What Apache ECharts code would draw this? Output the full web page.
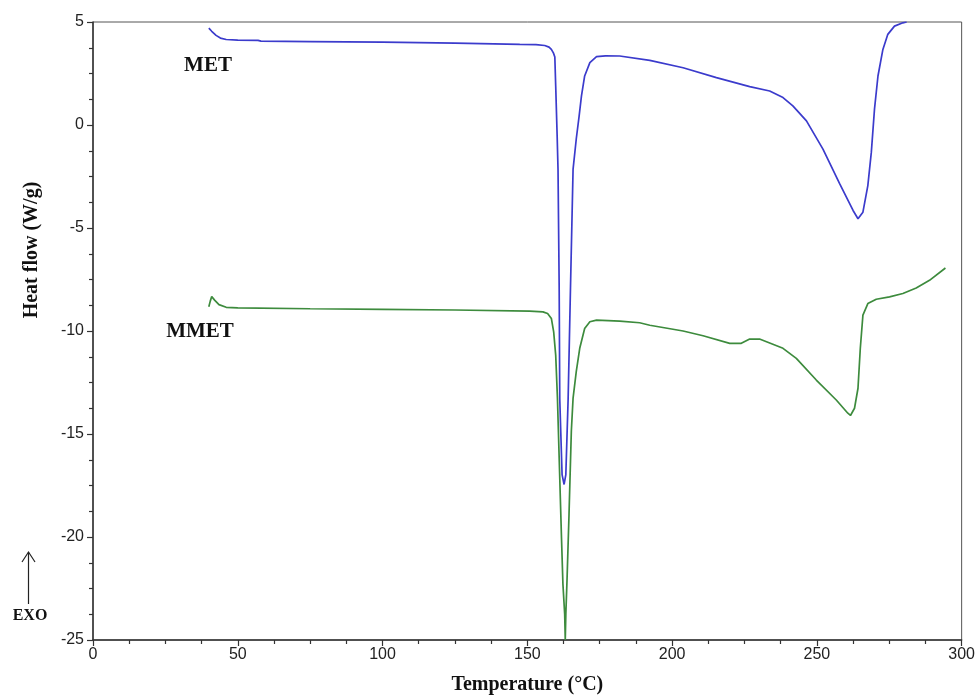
<!DOCTYPE html>
<html>
<head>
<meta charset="utf-8">
<script src="https://cdn.jsdelivr.net/npm/echarts@6/dist/echarts.min.js"></script>
<style>
  html, body { margin: 0; padding: 0; background: #fff; }
  #chart { width: 978px; height: 700px; }
</style>
</head>
<body>
<div id="chart"></div>
<script>
// DSC thermograms: heat flow (W/g) against temperature (°C)
const tempMET = [40.0, 41.0, 42.5, 44.0, 46.0, 50, 57, 58, 75, 100, 125, 147.4, 153, 156, 157.5, 158.3, 159.0, 159.5,
  159.8, 160.3, 160.6, 161.0, 161.2, 162.0, 162.7, 163.3, 164.1, 164.9, 165.8, 166.9, 167.9, 168.7, 169.8, 171.6,
  173.9, 177, 181.9, 192.3, 203.8, 215.3, 226.8, 233.7, 238.3, 241.7, 246.4, 252.1, 257.9, 262.5, 264.2, 265.9,
  267.6, 268.8, 269.9, 271.1, 272.8, 274.5, 276.8, 279.7, 281.0];
const flowMET = [4.70, 4.55, 4.35, 4.22, 4.15, 4.12, 4.11, 4.07, 4.05, 4.02, 3.97, 3.91, 3.90, 3.86, 3.78, 3.67, 3.50, 3.30,
  1.90, -0.52, -2.14, -7.9, -13.3, -16.97, -17.45, -16.97, -13.26, -7.94, -2.14, -0.68, 0.44, 1.41, 2.38, 3.03,
  3.32, 3.36, 3.35, 3.14, 2.78, 2.30, 1.86, 1.65, 1.33, 0.93, 0.20, -1.17, -2.86, -4.15, -4.55, -4.23,
  -2.94, -1.33, 0.77, 2.38, 3.67, 4.40, 4.80, 4.96, 5.0];

const tempMMET = [40.0, 40.5, 41.0, 42.0, 43.5, 46.0, 50, 75, 100, 125, 150.8, 155.4, 157.0, 158.3, 159.1, 159.8, 160.4,
  161.8, 162.3, 162.9, 163.1, 163.3, 163.7, 164.4, 165.2, 165.8, 166.9, 168.1, 169.8, 171.6, 173.9, 181.9, 188.8,
  192.3, 203.8, 210.7, 219.9, 223.9, 226.8, 230.2, 238.3, 242.9, 249.8, 256.7, 260.7, 261.6, 263.0, 264.2, 265.0,
  265.9, 267.6, 270.5, 275.1, 279.7, 284.3, 288.9, 294.4];
const flowMMET = [-8.82, -8.55, -8.33, -8.50, -8.72, -8.85, -8.88, -8.92, -8.95, -8.98, -9.04, -9.07, -9.15, -9.39, -10.04, -11.17, -13.26,
  -20.04, -22.3, -23.75, -25.0, -23.75, -22.13, -18.9, -14.86, -13.26, -11.97, -10.84, -9.88, -9.55, -9.47, -9.52, -9.60,
  -9.72, -10.0, -10.23, -10.60, -10.60, -10.39, -10.39, -10.84, -11.33, -12.38, -13.35, -13.99, -14.10, -13.75, -12.78, -10.84,
  -9.23, -8.67, -8.46, -8.34, -8.18, -7.91, -7.54, -6.94];

const xTicks = { min: 0, max: 300, interval: 50 };
const yTicks = { min: -25, max: 5, interval: 5 };

const pairs = (xs, ys) => xs.map((x, i) => [x, ys[i]]);

const serif = '"Liberation Serif", "DejaVu Serif", serif';
const sans = '"Liberation Sans", Arial, sans-serif';

const chart = echarts.init(document.getElementById('chart'), null, { renderer: 'canvas' });

chart.setOption({
  animation: false,
  backgroundColor: '#ffffff',
  grid: {
    left: 93, right: 16, top: 22, bottom: 58,
    show: true, borderColor: '#555', borderWidth: 1, backgroundColor: 'transparent'
  },
  xAxis: {
    type: 'value',
    min: xTicks.min, max: xTicks.max, interval: xTicks.interval,
    name: 'Temperature (°C)',
    nameLocation: 'middle',
    nameGap: 35,
    nameTextStyle: { fontFamily: serif, fontWeight: 'bold', fontSize: 20, color: '#111' },
    axisLine: { show: true, onZero: false, lineStyle: { color: '#333', width: 1.5 } },
    axisTick: { show: true, inside: false, length: 6, lineStyle: { color: '#333', width: 1.2 } },
    minorTick: { show: true, splitNumber: 4, length: 4, lineStyle: { color: '#333', width: 1.2 } },
    axisLabel: { fontFamily: sans, fontSize: 16, color: '#222', margin: 7 },
    splitLine: { show: false }
  },
  yAxis: {
    type: 'value',
    min: yTicks.min, max: yTicks.max, interval: yTicks.interval,
    axisLine: { show: true, onZero: false, lineStyle: { color: '#333', width: 1.5 } },
    axisTick: { show: true, inside: false, length: 6, lineStyle: { color: '#333', width: 1.2 } },
    minorTick: { show: true, splitNumber: 4, length: 4, lineStyle: { color: '#333', width: 1.2 } },
    axisLabel: { fontFamily: sans, fontSize: 16, color: '#222', margin: 9 },
    splitLine: { show: false }
  },
  series: [
    {
      name: 'MET',
      type: 'line',
      data: pairs(tempMET, flowMET),
      showSymbol: false,
      clip: true,
      lineStyle: { color: '#3b3bcc', width: 1.7 }
    },
    {
      name: 'MMET',
      type: 'line',
      data: pairs(tempMMET, flowMMET),
      showSymbol: false,
      clip: true,
      lineStyle: { color: '#3d8b3d', width: 1.7 }
    }
  ],
  graphic: [
    {
      type: 'text', x: 32, y: 250, rotation: Math.PI / 2,
      style: { text: 'Heat flow (W/g)', font: 'bold 20px ' + serif, fill: '#111',
               align: 'center', verticalAlign: 'middle' }
    },
    {
      type: 'text', x: 208, y: 66,
      style: { text: 'MET', font: 'bold 21px ' + serif, fill: '#111', align: 'center', verticalAlign: 'middle' }
    },
    {
      type: 'text', x: 200, y: 332,
      style: { text: 'MMET', font: 'bold 21px ' + serif, fill: '#111', align: 'center', verticalAlign: 'middle' }
    },
    {
      type: 'text', x: 30, y: 616,
      style: { text: 'EXO', font: 'bold 16px ' + serif, fill: '#111', align: 'center', verticalAlign: 'middle' }
    },
    {
      type: 'line', shape: { x1: 28.5, y1: 604, x2: 28.5, y2: 552 },
      style: { stroke: '#222', lineWidth: 1.2 }
    },
    {
      type: 'polyline', shape: { points: [[22, 562], [28.5, 552], [35, 562]] },
      style: { stroke: '#222', lineWidth: 1.2, fill: null }
    }
  ]
});
</script>
</body>
</html>
